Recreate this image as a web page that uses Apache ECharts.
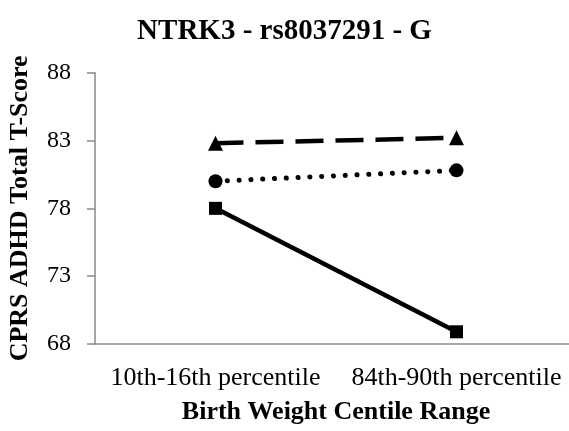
<!DOCTYPE html>
<html>
<head>
<meta charset="utf-8">
<script src="https://cdn.jsdelivr.net/npm/echarts@6/dist/echarts.min.js"></script>
<style>
  html, body { margin: 0; padding: 0; background: #fff; }
  #chart-container { width: 569px; height: 431px; }
</style>
</head>
<body>
<div id="chart-container"></div>
<script>
const categories = ['10th-16th percentile', '84th-90th percentile']
const dashedValues = [82.8, 83.2]
const dottedValues = [80.0, 80.8]
const solidValues = [78.0, 68.9]
const yTicks = [68, 73, 78, 83, 88]

const font = '"Liberation Serif", "Times New Roman", serif'
const myChart = echarts.init(document.getElementById('chart-container'))

const option = {
    animation: false,
    title: {
        text: 'NTRK3 - rs8037291 - G',
        left: 'center',
        top: 12,
        textStyle: { fontFamily: font, fontWeight: 'bold', fontSize: 29, color: '#000' }
    },
    // the plot area runs a little past the right edge in the original
    grid: { left: 95, top: 72.7, right: -8, height: 271.3, outerBoundsMode: 'none' },
    xAxis: {
        type: 'category',
        data: categories,
        name: 'Birth Weight Centile Range',
        nameLocation: 'middle',
        nameGap: 55,
        nameTextStyle: { fontFamily: font, fontWeight: 'bold', fontSize: 26, color: '#000', padding: [0, 0, 0, 0] },
        axisLine: { lineStyle: { color: '#898989', width: 1.5 } },
        axisTick: { show: false },
        axisLabel: {
            fontFamily: font, fontSize: 26, color: '#000', margin: 21,
            interval: 0, hideOverlap: false, showMinLabel: true, showMaxLabel: true
        }
    },
    yAxis: {
        type: 'value',
        min: yTicks[0],
        max: yTicks[yTicks.length - 1],
        interval: 5,
        name: 'CPRS ADHD Total T-Score',
        nameLocation: 'middle',
        nameGap: 62,
        nameTextStyle: { fontFamily: font, fontWeight: 'bold', fontSize: 26, color: '#000' },
        axisLine: { show: true, lineStyle: { color: '#898989', width: 1.5 } },
        axisTick: { show: true, length: 8, lineStyle: { color: '#898989', width: 1.5 } },
        splitLine: { show: false },
        axisLabel: { fontFamily: font, fontSize: 24, color: '#000', margin: 24 }
    },
    series: [
        {
            type: 'line',
            data: dashedValues,
            symbol: 'triangle',
            symbolSize: 15,
            itemStyle: { color: '#000' },
            lineStyle: { color: '#000', width: 4.5, type: [28, 12] }
        },
        {
            type: 'line',
            data: dottedValues,
            symbol: 'circle',
            symbolSize: 14,
            itemStyle: { color: '#000' },
            lineStyle: { color: '#000', width: 5, type: [0.1, 11.7], cap: 'round' }
        },
        {
            type: 'line',
            data: solidValues,
            symbol: 'rect',
            symbolSize: 13,
            itemStyle: { color: '#000' },
            lineStyle: { color: '#000', width: 4.5 }
        }
    ]
}

option && myChart.setOption(option)
</script>
</body>
</html>
